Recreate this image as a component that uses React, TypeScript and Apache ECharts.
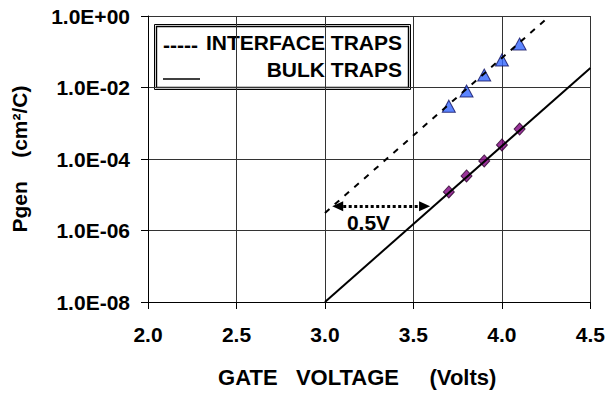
import React, { useEffect, useRef } from "react";
import * as echarts from "echarts";

// ---- data ----
const xTicks = [2.0, 2.5, 3.0, 3.5, 4.0, 4.5];
const yTickExponents = [0, -2, -4, -6, -8];
const gateVoltage = [3.7, 3.8, 3.9, 4.0, 4.1];
const interfacePoints = [3.0e-3, 8.0e-3, 2.24e-2, 5.9e-2, 1.65e-1];
const bulkPoints = [1.2e-5, 3.35e-5, 8.8e-5, 2.47e-4, 6.9e-4];
const interfaceFitX = [3.0, 4.26];
const interfaceFitY = [3.1e-6, 0.9];
const bulkFitX = [3.0, 4.5];
const bulkFitY = [1.0e-8, 3.5e-2];
const shiftArrowX = [3.072, 3.563];
const shiftArrowY = 4.8e-6;
const legendNames = ["INTERFACE TRAPS", "BULK TRAPS"];

const FONT = '"Liberation Sans", Arial, sans-serif';

function fmtExp(v: number): string {
  const e = Math.round(Math.log10(v));
  return "1.0E" + (e < 0 ? "-" : "+") + String(Math.abs(e)).padStart(2, "0");
}

export default function App() {
  const ref = useRef<HTMLDivElement>(null);
  useEffect(() => {
    document.body.style.margin = "0";
    const chart = echarts.init(ref.current!, null, { renderer: "svg" });
    const textBase = { fontFamily: FONT, fontWeight: "bold" as const, fontSize: 21, color: "#000" };
    chart.setOption({
      animation: false,
      backgroundColor: "#fff",
      grid: { left: 148, right: 17, top: 16, bottom: 94, containLabel: false },
      xAxis: {
        type: "value",
        min: xTicks[0],
        max: xTicks[xTicks.length - 1],
        interval: 0.5,
        name: "GATE   VOLTAGE     (Volts)",
        nameLocation: "middle",
        nameGap: 64,
        nameTextStyle: { ...textBase, fontSize: 22, padding: [0, 24, 0, 0] },
        axisLine: { onZero: false, lineStyle: { color: "#000", width: 1 } },
        axisTick: { show: true, length: 7, lineStyle: { color: "#000" } },
        axisLabel: { ...textBase, margin: 22, formatter: (v: number) => v.toFixed(1) },
        splitLine: { show: true, lineStyle: { color: "#333", width: 1 } },
      },
      yAxis: {
        type: "log",
        logBase: 10,
        min: Math.pow(10, yTickExponents[yTickExponents.length - 1]),
        max: Math.pow(10, yTickExponents[0]),
        interval: 2,
        name: "Pgen    (cm²/C)",
        nameLocation: "middle",
        nameRotate: 90,
        nameGap: 118,
        nameTextStyle: { ...textBase },
        axisLine: { show: true, lineStyle: { color: "#000", width: 1 } },
        axisTick: { show: true, length: 7, lineStyle: { color: "#000" } },
        minorTick: { show: false },
        axisLabel: { ...textBase, margin: 18, formatter: fmtExp },
        splitLine: { show: true, lineStyle: { color: "#333", width: 1 } },
      },
      series: [
        {
          name: legendNames[0] + " fit",
          type: "line",
          data: interfaceFitX.map((x, i) => [x, interfaceFitY[i]]),
          symbol: "none",
          lineStyle: { color: "#000", width: 2, type: [6, 7] },
        },
        {
          name: legendNames[1] + " fit",
          type: "line",
          data: bulkFitX.map((x, i) => [x, bulkFitY[i]]),
          symbol: "none",
          lineStyle: { color: "#000", width: 2 },
        },
        {
          name: legendNames[0],
          type: "scatter",
          data: gateVoltage.map((x, i) => [x, interfacePoints[i]]),
          symbol: "triangle",
          symbolSize: [13, 12],
          itemStyle: { color: "#3366FF", borderColor: "#101060", borderWidth: 1 },
          markLine: {
            silent: true,
            symbol: ["triangle", "triangle"],
            symbolSize: [10, 11],
            label: { show: false },
            lineStyle: { color: "#000", width: 3, type: [3, 2.5] },
            data: [[{ coord: [shiftArrowX[0], shiftArrowY] }, { coord: [shiftArrowX[1], shiftArrowY] }]],
          },
        },
        {
          name: legendNames[1],
          type: "scatter",
          data: gateVoltage.map((x, i) => [x, bulkPoints[i]]),
          symbol: "diamond",
          symbolSize: [11, 12],
          itemStyle: { color: "#800080", borderColor: "#2a002a", borderWidth: 1 },
        },
      ],
      graphic: [
        { type: "rect", shape: { x: 154.5, y: 24.5, width: 256, height: 65 }, style: { fill: "none", stroke: "#000", lineWidth: 1 } },
        { type: "rect", shape: { x: 156.5, y: 26.5, width: 252, height: 61 }, style: { fill: "none", stroke: "#000", lineWidth: 1.4 } },
        {
          type: "text",
          style: { text: "-----", x: 163, y: 44, font: `bold 21px ${FONT}`, fill: "#000", align: "left", verticalAlign: "middle", textAlign: "left", textVerticalAlign: "middle" },
        },
        { type: "line", shape: { x1: 163, y1: 79, x2: 200, y2: 79 }, style: { stroke: "#000", lineWidth: 1.5 } },
        {
          type: "text",
          style: { text: legendNames[0], x: 402, y: 42.5, font: `bold 21px ${FONT}`, fill: "#000", align: "right", verticalAlign: "middle", textAlign: "right", textVerticalAlign: "middle" },
        },
        {
          type: "text",
          style: { text: legendNames[1], x: 402, y: 69.5, font: `bold 21px ${FONT}`, fill: "#000", align: "right", verticalAlign: "middle", textAlign: "right", textVerticalAlign: "middle" },
        },
        {
          type: "text",
          style: { text: "0.5V", x: 368.5, y: 222.5, font: `bold 21px ${FONT}`, fill: "#000", align: "center", verticalAlign: "middle", textAlign: "center", textVerticalAlign: "middle" },
        },
      ],
    });
    return () => chart.dispose();
  }, []);
  return (
    <div
      ref={ref}
      style={{ position: "fixed", left: 0, top: 0, width: 608, height: 396 }}
    />
  );
}
